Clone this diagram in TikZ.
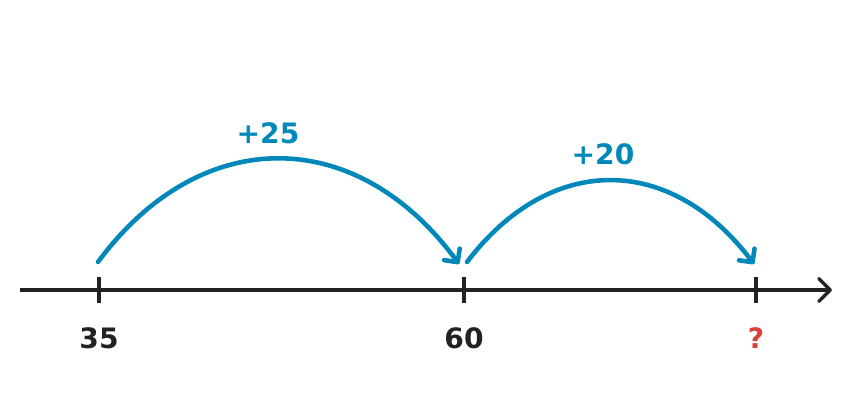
\documentclass[tikz,border=0pt]{standalone}
\usepackage{fontspec}
\setmainfont{DejaVu Sans}
\usetikzlibrary{arrows.meta}

\definecolor{jumpblue}{HTML}{0088BB}
\definecolor{axisgray}{HTML}{222222}
\definecolor{askred}{HTML}{D9403A}

\begin{document}
\begin{tikzpicture}[x=0.02cm,y=-0.02cm,
  axisline/.style={line width=1.9pt,draw=axisgray},
  jump/.style={line width=2.6pt,draw=jumpblue,line cap=round,
    -{Straight Barb[length=5.5pt,width=11pt,line cap=round,round]}},
  numlabel/.style={font=\fontsize{16}{19}\selectfont\bfseries,text=axisgray},
  jumplabel/.style={font=\fontsize{16}{19}\selectfont\bfseries,text=jumpblue}]

% white background fixes the size
\useasboundingbox[fill=white] (0,0) rectangle (864,416);

% ends of the number line
\coordinate (axisL) at (20,290);
\coordinate (axisR) at (832,290);

% draw number line
\draw[axisline,-{Straight Barb[length=6.5pt,width=13pt,round]}] (axisL) -- (axisR);

% ticks and labels
\foreach \name/\x/\lab in {a/99/35,b/464/60} {
  \draw[axisline] (\x,277) -- (\x,303);
  \node[numlabel] (lab\name) at (\x,338) {\lab};
}
\draw[axisline] (756,277) -- (756,303);
\node[numlabel,text=askred] (labc) at (756,338) {?};

% start and end points of the jumps
\coordinate (jumpA) at (98,262);
\coordinate (jumpB) at (459,264);
\coordinate (jumpC) at (467,262);
\coordinate (jumpD) at (754,264);

% first jump
\draw[jump] (jumpA) .. controls (200,124) and (356,124) .. (jumpB);
\node[jumplabel] (plusA) at (268,133) {+25};

% second jump
\draw[jump] (jumpC) .. controls (550,153) and (670,153) .. (jumpD);
\node[jumplabel] (plusB) at (603,154) {+20};

\end{tikzpicture}
\end{document}
